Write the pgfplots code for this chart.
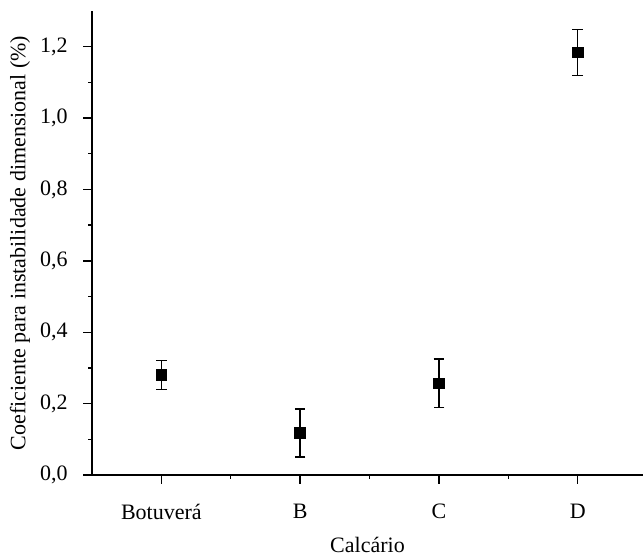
\documentclass[border=0pt]{standalone}
\usepackage{fontspec}
\setmainfont{Liberation Serif}
\usepackage{pgfplots}
\pgfplotsset{compat=1.18}

\begin{document}
\fontsize{11}{13}\selectfont
\begin{tikzpicture}
\useasboundingbox (-46pt,-42pt) rectangle (275.5pt,237.5pt);
\begin{axis}[
    at={(0,0)}, anchor=south west,
    scale only axis, width=275.5pt, height=232pt,
    axis lines*=left,
    xmin=-0.5, xmax=3.47, ymin=0, ymax=1.3,
    xtick={0,1,2,3}, xticklabels={Botuverá,B,C,D},
    minor xtick={0.5,1.5,2.5},
    ytick={0,0.2,...,1.2}, minor ytick={0.1,0.3,...,1.1},
    tick align=outside, major tick length=4.3pt, minor tick length=1.8pt,
    tick style={black, line width=0.7pt},
    axis line style={line width=0.8pt},
    yticklabel style={xshift=-4pt, /pgf/number format/.cd, fixed, fixed zerofill, precision=1, use comma, assume math mode=true},
    xticklabel style={yshift=-6.5pt},
    xlabel={Calcário}, ylabel={Coeficiente para instabilidade dimensional (\%)},
    xlabel style={at={(axis description cs:0.5,0)}, anchor=base, yshift=-38.5pt},
    ylabel style={at={(axis description cs:-0.1307,0.5)}, anchor=center},
    font=\fontsize{11}{13}\selectfont,
    clip=false,
]
\addplot[only marks, mark=square*, mark size=2.65pt, black,
    error bars/.cd, y dir=both, y explicit,
    error mark options={rotate=90, mark size=2.65pt, line width=0.7pt},
    error bar style={line width=0.7pt}]
coordinates {
    (0,0.280) +- (0,0.040)
    (1,0.118) +- (0,0.067)
    (2,0.257) +- (0,0.068)
    (3,1.184) +- (0,0.065)
};
\end{axis}
\end{tikzpicture}
\end{document}
